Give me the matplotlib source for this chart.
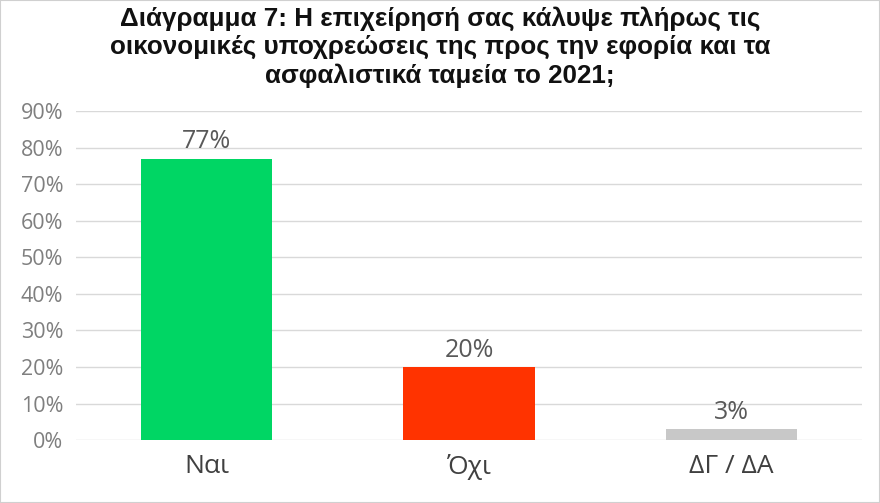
import matplotlib.pyplot as plt
from matplotlib.ticker import PercentFormatter

# data
categories = ["Ναι", "Όχι", "ΔΓ / ΔΑ"]
values = [77, 20, 3]
colors = ["#00D664", "#FF3300", "#C8C8C8"]
title = ("Διάγραμμα 7: Η επιχείρησή σας κάλυψε πλήρως τις\n"
         "οικονομικές υποχρεώσεις της προς την εφορία και τα\n"
         "ασφαλιστικά ταμεία το 2021;")

plt.rcParams['font.family'] = ['Open Sans', 'DejaVu Sans']

fig = plt.figure(figsize=(8.8, 5.03), dpi=100)
ax = fig.add_axes([0.086, 0.125, 0.894, 0.654])

x = range(len(categories))
bars = ax.bar(x, values, width=0.5, color=colors, zorder=3)

for b, v in zip(bars, values):
    ax.text(b.get_x() + b.get_width() / 2, v + 1.2, f"{v}%", ha="center", va="bottom",
            fontsize=18, color="#595959")

ax.set_xlim(-0.5, 2.5)
ax.set_ylim(0, 90)
ax.set_yticks(range(0, 91, 10))
ax.yaxis.set_major_formatter(PercentFormatter(decimals=0))
ax.set_xticks(list(x))
ax.set_xticklabels(categories, fontsize=19, color="#404040")
ax.tick_params(axis="y", labelsize=15.5, labelcolor="#7F7F7F", length=0, pad=9)
ax.tick_params(axis="x", length=0, pad=10)
ax.grid(axis="y", color="#D9D9D9", linewidth=1, zorder=0)
for s in ax.spines.values():
    s.set_visible(False)

fig.text(0.5, 0.988, title, ha="center", va="top", fontsize=18.7, fontweight="bold",
         family=["Liberation Sans", "DejaVu Sans"], linespacing=1.22, color="#111111")

fig.patches.append(plt.Rectangle((0, 0), 1, 1, transform=fig.transFigure,
                                 fill=False, edgecolor="#D0D0D0", linewidth=1.5))

fig.savefig("out.png", dpi=100)
